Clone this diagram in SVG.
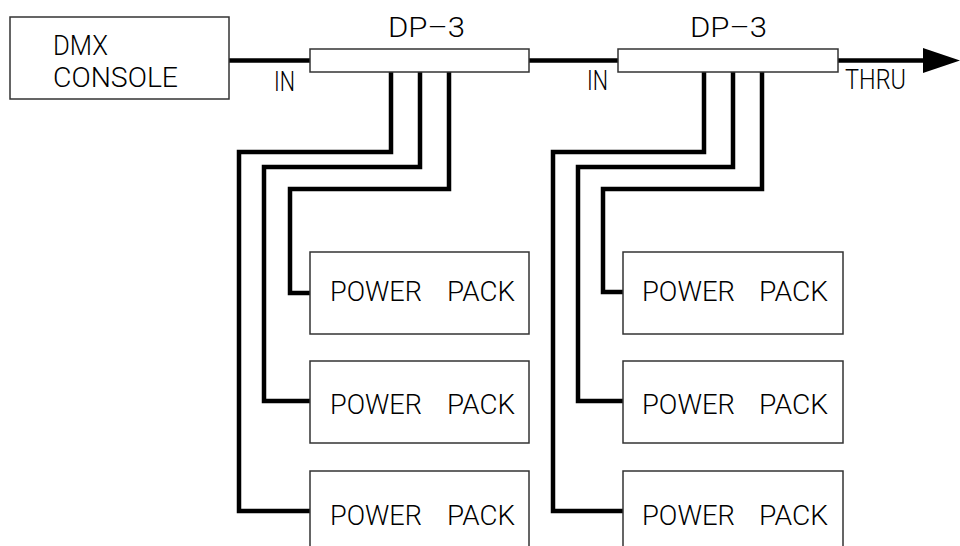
<svg xmlns="http://www.w3.org/2000/svg" width="960" height="546" viewBox="0 0 960 546">
<style>
.box{fill:#fff;stroke:#333;stroke-width:1.5}
.wire{fill:none;stroke:#000;stroke-width:4.5;stroke-linejoin:miter;stroke-linecap:butt}
text{font-family:Roboto,"Liberation Sans",sans-serif;font-weight:300;font-size:27px;fill:#000}
</style>
<rect width="960" height="546" fill="#fff"/>
<g id="connectors">
<path class="wire" d="M229 60.5H310"/>
<path class="wire" d="M529 60.5H618"/>
<path class="wire" d="M838 60.5H926"/>
<polygon points="923,48 960,60.5 923,73" fill="#000"/>
<path class="wire" d="M391 72V152H239V511H310"/>
<path class="wire" d="M420 72V167H264V401H310"/>
<path class="wire" d="M449 72V189H290V293H310"/>
<path class="wire" d="M704 72V152H553V511H623"/>
<path class="wire" d="M733 72V167H578V401H623"/>
<path class="wire" d="M762 72V189H603V292H623"/>
</g>
<g id="dmx-console">
<rect class="box" x="10" y="17" width="219" height="82"/>
<text x="53" y="55" textLength="55" lengthAdjust="spacingAndGlyphs">DMX</text>
<text x="53" y="87" textLength="125" lengthAdjust="spacingAndGlyphs">CONSOLE</text>
</g>
<g id="label-in-1"><text x="274" y="91" textLength="21" lengthAdjust="spacingAndGlyphs">IN</text></g>
<g id="dp3-1">
<rect class="box" x="310" y="49" width="219" height="23"/>
<text x="388" y="37" textLength="77" lengthAdjust="spacingAndGlyphs">DP–3</text>
</g>
<g id="label-in-2"><text x="587" y="90" textLength="21" lengthAdjust="spacingAndGlyphs">IN</text></g>
<g id="dp3-2">
<rect class="box" x="618" y="49" width="220" height="23"/>
<text x="690" y="37" textLength="77" lengthAdjust="spacingAndGlyphs">DP–3</text>
</g>
<g id="label-thru"><text x="845" y="89" textLength="61" lengthAdjust="spacingAndGlyphs">THRU</text></g>
<g id="pp-l1"><rect class="box" x="310" y="252" width="219" height="82"/><text y="301"><tspan x="330" textLength="92" lengthAdjust="spacingAndGlyphs">POWER</tspan> <tspan x="447" textLength="68" lengthAdjust="spacingAndGlyphs">PACK</tspan></text></g>
<g id="pp-l2"><rect class="box" x="310" y="361" width="219" height="82"/><text y="414"><tspan x="330" textLength="92" lengthAdjust="spacingAndGlyphs">POWER</tspan> <tspan x="447" textLength="68" lengthAdjust="spacingAndGlyphs">PACK</tspan></text></g>
<g id="pp-l3"><rect class="box" x="310" y="471" width="219" height="82"/><text y="525"><tspan x="330" textLength="92" lengthAdjust="spacingAndGlyphs">POWER</tspan> <tspan x="447" textLength="68" lengthAdjust="spacingAndGlyphs">PACK</tspan></text></g>
<g id="pp-r1"><rect class="box" x="623" y="252" width="220" height="82"/><text y="301"><tspan x="642" textLength="93" lengthAdjust="spacingAndGlyphs">POWER</tspan> <tspan x="759" textLength="69" lengthAdjust="spacingAndGlyphs">PACK</tspan></text></g>
<g id="pp-r2"><rect class="box" x="623" y="361" width="220" height="82"/><text y="414"><tspan x="642" textLength="93" lengthAdjust="spacingAndGlyphs">POWER</tspan> <tspan x="759" textLength="69" lengthAdjust="spacingAndGlyphs">PACK</tspan></text></g>
<g id="pp-r3"><rect class="box" x="623" y="471" width="220" height="82"/><text y="525"><tspan x="642" textLength="93" lengthAdjust="spacingAndGlyphs">POWER</tspan> <tspan x="759" textLength="69" lengthAdjust="spacingAndGlyphs">PACK</tspan></text></g>
</svg>
